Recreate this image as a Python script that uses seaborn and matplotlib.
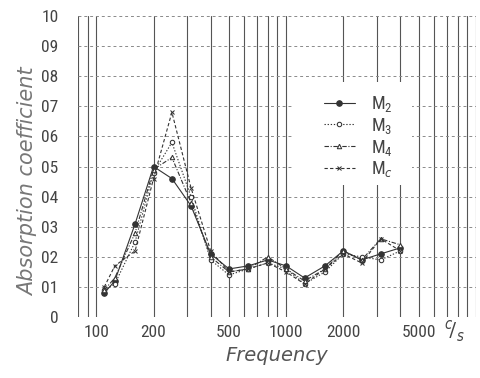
import matplotlib
matplotlib.use("Agg")
import matplotlib.pyplot as plt
import seaborn as sns
import pandas as pd
from matplotlib import font_manager
from matplotlib.patches import Rectangle

# Third-octave band centre frequencies (c/s)
freq = [110, 125, 160, 200, 250, 315, 400, 500, 630, 800, 1000, 1250, 1600, 2000, 2500, 3150, 4000]

# Absorption coefficients for each sample
m2 = [0.08, 0.12, 0.31, 0.50, 0.46, 0.37, 0.21, 0.16, 0.17, 0.19, 0.17, 0.13, 0.17, 0.22, 0.19, 0.21, 0.23]
m3 = [0.09, 0.11, 0.25, 0.48, 0.58, 0.40, 0.19, 0.14, 0.16, 0.18, 0.16, 0.11, 0.15, 0.21, 0.20, 0.19, 0.22]
m4 = [0.09, 0.13, 0.28, 0.49, 0.53, 0.38, 0.20, 0.15, 0.16, 0.20, 0.16, 0.12, 0.16, 0.22, 0.19, 0.26, 0.24]
mc = [0.10, 0.17, 0.22, 0.46, 0.68, 0.43, 0.22, 0.15, 0.16, 0.18, 0.15, 0.11, 0.16, 0.21, 0.18, 0.26, 0.22]

series_names = [r"$\mathrm{M}_2$", r"$\mathrm{M}_3$", r"$\mathrm{M}_4$", r"$\mathrm{M}_c$"]
series_values = [m2, m3, m4, mc]

ytick_vals = [0.0, 0.1, 0.2, 0.3, 0.4, 0.5, 0.6, 0.7, 0.8, 0.9, 1.0]
ytick_labels = ["0", "01", "02", "03", "04", "05", "06", "07", "08", "09", "10"]
xtick_vals = [100, 200, 500, 1000, 2000, 5000]
xtick_labels = ["100", "200", "500", "1000", "2000", "5000"]

df = pd.concat(
    [pd.DataFrame({"freq": freq, "alpha": v, "sample": n}) for n, v in zip(series_names, series_values)],
    ignore_index=True,
)

sns.set_theme(style="white")
names = {f.name for f in font_manager.fontManager.ttflist}
narrow = [n for n in ["Liberation Sans Narrow", "DejaVu Sans Condensed", "Roboto Condensed", "Open Sans Condensed"] if n in names]
plt.rcParams["font.family"] = narrow + ["DejaVu Sans"]
plt.rcParams["font.stretch"] = "condensed"
plt.rcParams["mathtext.fontset"] = "custom"
plt.rcParams["mathtext.rm"] = (narrow + ["DejaVu Sans"])[0]

fig = plt.figure(figsize=(4.8, 3.78), dpi=100)
ax = fig.add_axes([0.1625, 0.161, 0.829, 0.797])

ink = "#333333"
styles = {
    series_names[0]: dict(linestyle="-", marker="o", markersize=4.0, markerfacecolor=ink, markeredgecolor=ink),
    series_names[1]: dict(linestyle=(0, (1.2, 1.6)), marker="o", markersize=3.2, markerfacecolor="white", markeredgecolor=ink),
    series_names[2]: dict(linestyle=(0, (4, 1.5, 1, 1.5)), marker="^", markersize=3.2, markerfacecolor="white", markeredgecolor=ink),
    series_names[3]: dict(linestyle=(0, (3, 2)), marker="x", markersize=3.2, markeredgecolor=ink),
}

for name in series_names:
    sub = df[df["sample"] == name]
    sns.lineplot(data=sub, x="freq", y="alpha", ax=ax, color=ink, linewidth=0.8,
                 label=name, estimator=None, sort=False, zorder=3, **styles[name])

ax.set_xscale("log")
ax.set_xlim(80, 10000)
ax.set_ylim(0, 1.0)

# Grid: solid verticals at every 1-2-...-9 step, dashed horizontals
vlines = [80, 90, 100, 200, 300, 400, 500, 600, 700, 800, 900, 1000,
          2000, 3000, 4000, 5000, 6000, 7000, 8000, 9000, 10000]
for v in vlines:
    ax.axvline(v, color="#555555", linewidth=0.8, zorder=0)
for h in ytick_vals:
    ax.axhline(h, color="#8a8a8a", linewidth=0.7, linestyle=(0, (3, 3)), zorder=0)

# blank panel behind the key
ax.add_patch(Rectangle((0.54, 0.44), 0.30, 0.34, transform=ax.transAxes,
                       facecolor="white", edgecolor="none", zorder=1))

for s in ax.spines.values():
    s.set_visible(False)

ax.set_yticks(ytick_vals)
ax.set_yticklabels(ytick_labels)
ax.set_xticks(xtick_vals)
ax.set_xticklabels(xtick_labels)
ax.minorticks_off()
ax.tick_params(axis="both", length=0, labelsize=12.5, colors="#444444")
ax.tick_params(axis="y", pad=14)
ax.tick_params(axis="x", pad=6)

ax.set_xlabel("Frequency", fontsize=14, style="italic", color="#555555", labelpad=4,
              family="DejaVu Sans", stretch="normal")
ax.set_ylabel("Absorption coefficient", fontsize=15, style="italic", color="#777777",
              family="DejaVu Sans", stretch="normal", weight="light")
ax.yaxis.set_label_coords(-0.10, 0.45)

fig.text(0.948, 0.125, r"$^{c}\!/_{s}$", fontsize=15, color="#444444", ha="center", va="center")

leg = ax.legend(loc="upper left", bbox_to_anchor=(0.6, 0.765), frameon=False,
                fontsize=13, handlelength=1.7, labelspacing=0.1, handletextpad=0.9,
                borderaxespad=0)
leg.set_zorder(4)
for t in leg.get_texts():
    t.set_color("#444444")

fig.savefig("out.png", dpi=100, facecolor="white")
